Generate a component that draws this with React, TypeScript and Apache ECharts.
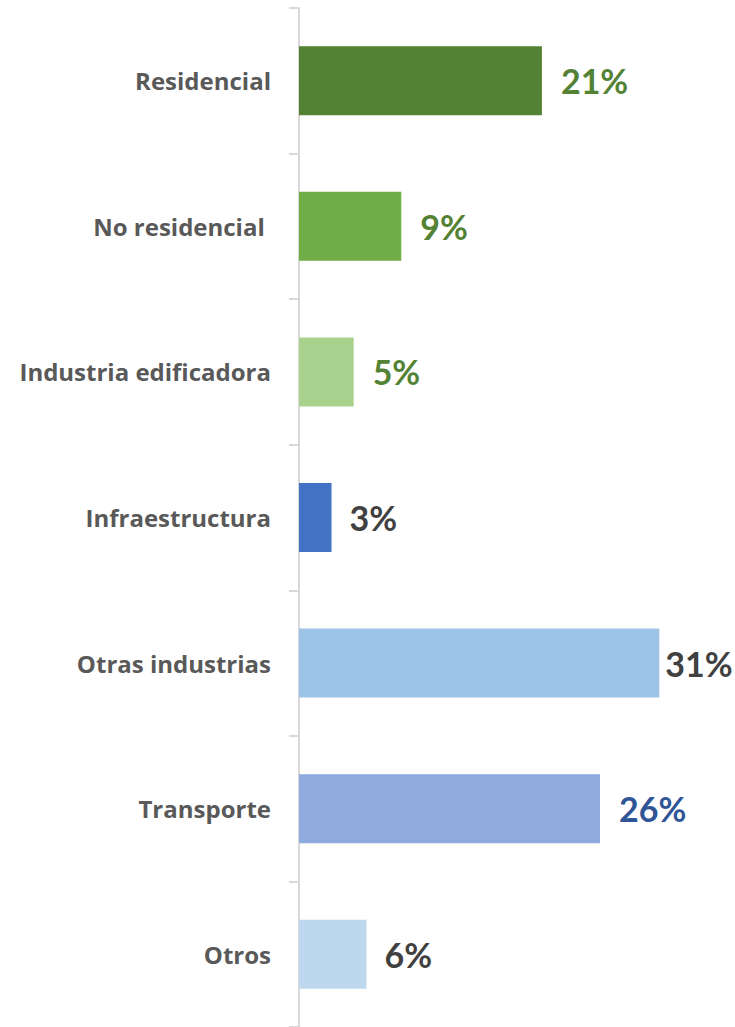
import React, { useEffect, useRef } from "react";
import * as echarts from "echarts";

const categories = [
  "Residencial",
  "No residencial ",
  "Industria edificadora",
  "Infraestructura",
  "Otras industrias",
  "Transporte",
  "Otros",
];
const values = [20.9, 8.8, 4.7, 2.8, 31, 25.9, 5.8];
const barColors = ["#548235", "#70AD47", "#A9D18E", "#4472C4", "#9DC3E6", "#8FAADC", "#BDD7EE"];
const labelColors = ["#548235", "#548235", "#548235", "#404040", "#404040", "#2F5597", "#404040"];
const labelDistances = [19, 19, 19, 18, 6, 19, 18];

export default function App() {
  const ref = useRef<HTMLDivElement>(null);
  useEffect(() => {
    if (!ref.current) return;
    const chart = echarts.init(ref.current, null, { renderer: "svg" });
    chart.setOption({
      animation: false,
      backgroundColor: "#ffffff",
      grid: { left: 299, right: 75.7, top: 8, bottom: -5, containLabel: false },
      xAxis: { type: "value", min: 0, max: 31, show: false },
      yAxis: {
        type: "category",
        data: categories,
        inverse: true,
        axisLine: { show: true, lineStyle: { color: "#D9D9D9", width: 2 } },
        axisTick: { show: true, length: 10, lineStyle: { color: "#D9D9D9", width: 2 } },
        axisLabel: {
          margin: 28,
          color: "#595959",
          fontFamily: "Open Sans",
          fontWeight: "bold",
          fontSize: 24,
        },
        splitLine: { show: false },
      },
      series: [
        {
          type: "bar",
          barWidth: 69,
          data: values.map((v, i) => ({
            value: v,
            itemStyle: { color: barColors[i] },
            label: {
              show: true,
              position: "right",
              distance: labelDistances[i],
              color: labelColors[i],
              fontFamily: "Lato",
              fontWeight: "bold",
              fontSize: 34,
              formatter: () => Math.round(v) + "%",
            },
          })),
        },
      ],
    });
    return () => chart.dispose();
  }, []);
  return (
    <div
      ref={ref}
      style={{ position: "fixed", left: 0, top: 0, width: 735, height: 1027, background: "#fff" }}
    />
  );
}
